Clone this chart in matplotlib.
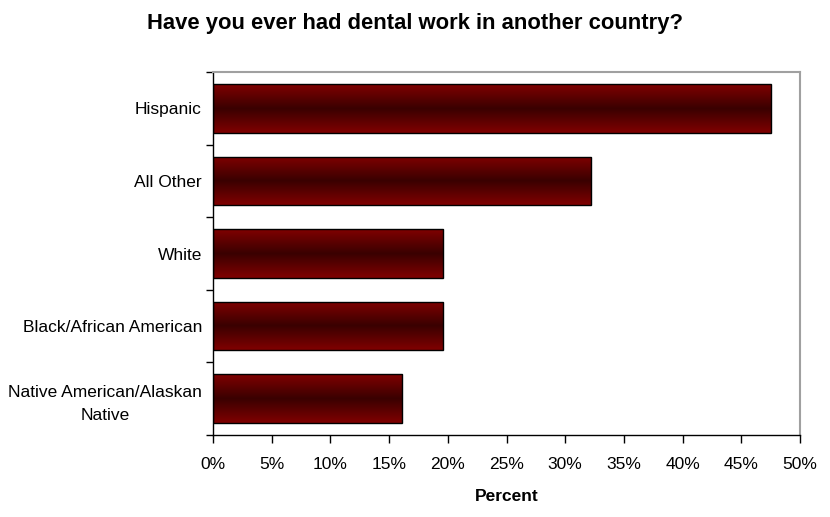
import numpy as np
import matplotlib
matplotlib.use('Agg')
import matplotlib.pyplot as plt
from matplotlib.colors import LinearSegmentedColormap
from matplotlib.ticker import FixedLocator, PercentFormatter

matplotlib.rcParams['font.family'] = ['Liberation Sans', 'DejaVu Sans']

categories = ["Native American/Alaskan\nNative", "Black/African American", "White", "All Other", "Hispanic"]
values = [16.1, 19.6, 19.6, 32.2, 47.5]
xticks = [0, 5, 10, 15, 20, 25, 30, 35, 40, 45, 50]

fig = plt.figure(figsize=(8.3, 5.17), dpi=100)
ax = fig.add_axes([213 / 830, 1 - 435 / 517, 587 / 830, 363 / 517])

# vertical shading: bright red at the edges, dark in the middle
shade = LinearSegmentedColormap.from_list("shade", ["#800000", "#3a0000", "#800000"])
grad = np.linspace(0, 1, 256).reshape(-1, 1)

bar_h = 0.67
bars = ax.barh(range(len(categories)), values, height=bar_h, color="none",
               edgecolor="black", linewidth=1.0, zorder=3)
for i, (b, v) in enumerate(zip(bars, values)):
    im = ax.imshow(grad, cmap=shade, aspect="auto", interpolation="bilinear",
                   extent=[0, v, i - bar_h / 2, i + bar_h / 2], zorder=2)
    im.set_clip_path(b)

ax.set_xlim(0, 50)
ax.set_ylim(-0.5, len(categories) - 0.5)
ax.set_xticks(xticks)
ax.xaxis.set_major_formatter(PercentFormatter(decimals=0))
ax.set_yticks(range(len(categories)))
ax.set_yticklabels(categories, ha="right", multialignment="center", linespacing=1.65)
ax.yaxis.set_minor_locator(FixedLocator(np.arange(-0.5, len(categories), 1)))
ax.tick_params(axis="y", which="major", length=0, pad=8, labelsize=12.5)
ax.tick_params(axis="y", which="minor", length=5, width=1, color="black", direction="out")
ax.tick_params(axis="x", length=6, width=1, direction="out", labelsize=12.5, pad=10)

for s in ["left", "bottom"]:
    ax.spines[s].set_color("black")
    ax.spines[s].set_linewidth(1.0)
for s in ["top", "right"]:
    ax.spines[s].set_color("#a0a0a0")
    ax.spines[s].set_linewidth(1.5)

ax.set_xlabel("Percent", fontsize=12.5, fontweight="bold", labelpad=12)
fig.text(0.5, 1 - 29 / 517, "Have you ever had dental work in another country?",
         ha="center", va="baseline", fontsize=15.8, fontweight="bold")

plt.savefig("out.png", dpi=100)
